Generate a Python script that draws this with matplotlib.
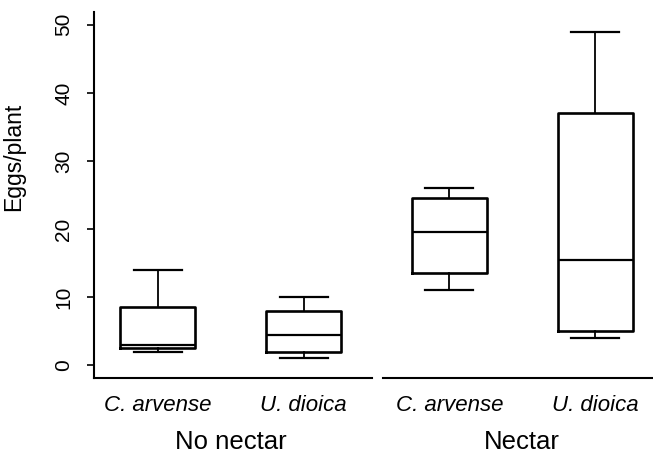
import matplotlib
matplotlib.use("Agg")
import matplotlib.pyplot as plt

plt.rcParams['font.family'] = ['Liberation Sans', 'DejaVu Sans']

# data
species = ["C. arvense", "U. dioica", "C. arvense", "U. dioica"]
groups = ["No nectar", "Nectar"]
whisker_low = [2.0, 1.0, 11.0, 4.0]
q1 = [2.5, 2.0, 13.5, 5.0]
medians = [3.0, 4.5, 19.5, 15.5]
q3 = [8.5, 8.0, 24.5, 37.0]
whisker_high = [14.0, 10.0, 26.0, 49.0]
yticks = [0, 10, 20, 30, 40, 50]

stats = []
for i in range(len(species)):
    stats.append({"whislo": whisker_low[i], "q1": q1[i], "med": medians[i],
                  "q3": q3[i], "whishi": whisker_high[i], "fliers": []})

fig = plt.figure(figsize=(6.53, 4.55), dpi=100)
ax = fig.add_axes([0.144, 0.169, 0.856, 0.805])

positions = [1, 2, 3, 4]
ax.bxp(stats, positions=positions, widths=0.515, showfliers=False,
       boxprops=dict(color="black", linewidth=1.9),
       medianprops=dict(color="black", linewidth=1.6),
       whiskerprops=dict(color="black", linewidth=1.3),
       capprops=dict(color="black", linewidth=1.6),
       capwidths=0.33)

ax.set_xlim(0.561, 4.398)
ax.set_ylim(-1.9, 51.9)

ax.spines["top"].set_visible(False)
ax.spines["right"].set_visible(False)
ax.spines["bottom"].set_visible(False)
ax.spines["left"].set_linewidth(1.5)

# broken x axis, one piece per group
ax.plot([0, 0.497], [0, 0], transform=ax.transAxes, color="black", lw=1.5, clip_on=False)
ax.plot([0.517, 1.0], [0, 0], transform=ax.transAxes, color="black", lw=1.5, clip_on=False)

ax.set_yticks(yticks)
ax.set_yticklabels([str(t) for t in yticks], rotation=90, va="center")
ax.tick_params(axis="y", length=5, width=1.2, labelsize=15, pad=10)
ax.tick_params(axis="x", length=0, labelsize=16, pad=12)
ax.set_xticks(positions)
ax.set_xticklabels(species, style="italic")

ax.set_ylabel("Eggs/plant", fontsize=16.5)
ax.yaxis.set_label_coords(-0.123, 0.604)

for j, g in enumerate(groups):
    xc = (positions[2 * j] + positions[2 * j + 1]) / 2
    ax.text(xc, -0.175, g, transform=ax.get_xaxis_transform(), ha="center",
            va="center", fontsize=18.5)

fig.savefig("out.png", dpi=100)
